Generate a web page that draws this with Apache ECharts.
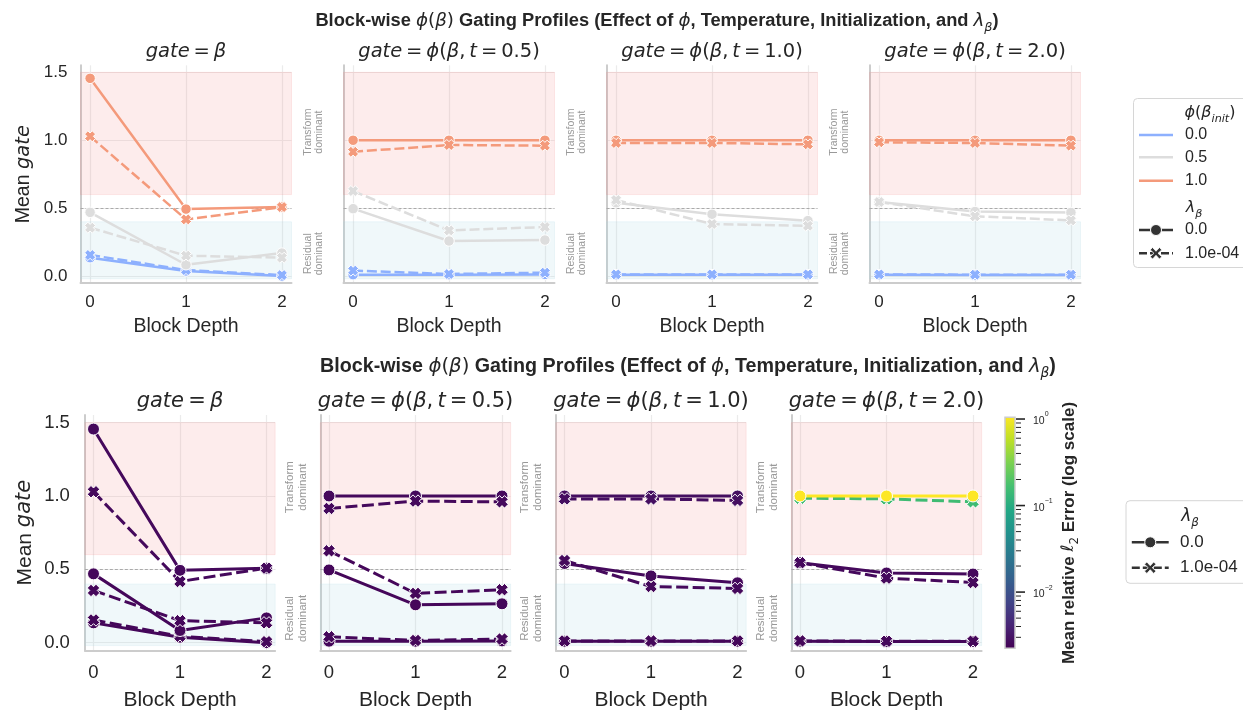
<!DOCTYPE html>
<html><head><meta charset="utf-8">
<script src="https://cdn.jsdelivr.net/npm/echarts@6/dist/echarts.min.js"></script>
<style>html,body{margin:0;padding:0;background:#fff}#c{width:1243px;height:711px}</style>
</head><body><div id="c"></div>
<script>
// ---------------- data ----------------
const depths = [0, 1, 2];
const initLabels = ['0.0', '0.5', '1.0'];          // phi(beta_init) levels
const lambdaLabels = ['0.0', '1.0e-04'];           // lambda_beta levels
const panelTemps = [null, '0.5', '1.0', '2.0'];    // gate = beta, phi(beta,t)
const xTickVals = [0, 1, 2];
const yTickVals = [0, 0.5, 1.0, 1.5];
const xRange = [-0.1, 2.1];
const yRange = [-0.052, 1.552];
const transformBand = [0.6, 1.5];
const residualBand = [-0.02, 0.4];
const threshold = 0.5;

// mean gate per block depth; rows = phi(beta_init) 0.0, 0.5, 1.0
const gBeta_lam0 = [[0.135, 0.037, 0.000], [0.469, 0.083, 0.169], [1.456, 0.493, 0.508]];
const gBeta_lam1 = [[0.155, 0.044, 0.007], [0.356, 0.150, 0.135], [1.029, 0.417, 0.508]];
const gT05_lam0  = [[0.010, 0.010, 0.012], [0.496, 0.258, 0.265], [1.000, 1.000, 1.000]];
const gT05_lam1  = [[0.040, 0.015, 0.025], [0.626, 0.336, 0.361], [0.915, 0.965, 0.960]];
const gT10_lam0  = [[0.010, 0.010, 0.010], [0.540, 0.455, 0.408], [1.000, 1.000, 1.000]];
const gT10_lam1  = [[0.012, 0.012, 0.012], [0.560, 0.383, 0.370], [0.980, 0.980, 0.970]];
const gT20_lam0  = [[0.010, 0.008, 0.008], [0.545, 0.475, 0.468], [1.000, 1.000, 1.000]];
const gT20_lam1  = [[0.012, 0.010, 0.010], [0.545, 0.440, 0.410], [0.985, 0.980, 0.960]];

// mean relative l2 error per line (bottom row colour); per phi(beta_init) 0.0, 0.5, 1.0
const eBeta_lam0 = [0.0025, 0.0025, 0.0026];
const eBeta_lam1 = [0.0025, 0.0025, 0.0026];
const eT05_lam0  = [0.0025, 0.0025, 0.0026];
const eT05_lam1  = [0.0025, 0.0025, 0.0026];
const eT10_lam0  = [0.0025, 0.0026, 0.0028];
const eT10_lam1  = [0.0025, 0.0026, 0.0028];
const eT20_lam0  = [0.0025, 0.0026, 1.05];
const eT20_lam1  = [0.0025, 0.0026, 0.15];

// colorbar (log scale)
const cbMin = 0.00224, cbMax = 1.047;
const cbMajor = [0.01, 0.1, 1];
const cbMajorExp = ['\u22122', '\u22121', '0'];
const cbMinor = [0.003,0.004,0.005,0.006,0.007,0.008,0.009,0.02,0.03,0.04,0.05,0.06,0.07,0.08,0.09,0.2,0.3,0.4,0.5,0.6,0.7,0.8,0.9];

// ---------------- styling ----------------
const SANS = 'Liberation Sans';
const MATH = 'DejaVu Sans';
const TXT = '#262626';
const initColors = ['#8db0fe', '#dddddd', '#f49a7b'];
const VIRIDIS = ['#440154','#482475','#414487','#355f8d','#2a788e','#21918c','#22a884','#44bf70','#7ad151','#bddf26','#fde725'];
const XPATH = 'path://M0,3 L3,0 L5,2 L7,0 L10,3 L8,5 L10,7 L7,10 L5,8 L3,10 L0,7 L2,5 Z';

const panelVals = [[gBeta_lam0, gBeta_lam1], [gT05_lam0, gT05_lam1], [gT10_lam0, gT10_lam1], [gT20_lam0, gT20_lam1]];
const panelErr  = [[eBeta_lam0, eBeta_lam1], [eT05_lam0, eT05_lam1], [eT10_lam0, eT10_lam1], [eT20_lam0, eT20_lam1]];

const ROWS = [
  {lefts: [80.5, 343.5, 606.5, 869.5], width: 211, top: 65.3, height: 217.8,
   tick: 17, name: 19.5, title: 19.5, sup: 18.3, ann: 10.5, sym: 10.5, symX: 11, lw: 2.5, dash: [10, 3.8],
   xMargin: 11, yMargin: 13, titleY: 51.7, supY: 21, supX: 657, nameY: 327, ylabX: 24, annDx: 22},
  {lefts: [84.85, 320.35, 555.85, 791.35], width: 190.3, top: 415, height: 235.3,
   tick: 18.5, name: 21, title: 21, sup: 19.7, ann: 11.5, sym: 12, symX: 12.5, lw: 3, dash: [12, 4.5],
   xMargin: 13, yMargin: 15, titleY: 401.7, supY: 367, supX: 688, nameY: 700, ylabX: 25, annDx: 21}
];

function hexToRgb(h){return [parseInt(h.slice(1,3),16),parseInt(h.slice(3,5),16),parseInt(h.slice(5,7),16)];}
function errT(e){ return Math.max(0, Math.min(1, (Math.log10(e) - Math.log10(cbMin)) / (Math.log10(cbMax) - Math.log10(cbMin)))); }
function viridis(t){
  t = Math.max(0, Math.min(1, t));
  const n = VIRIDIS.length - 1, k = Math.min(n - 1, Math.floor(t * n)), f = t * n - k;
  const a = hexToRgb(VIRIDIS[k]), b = hexToRgb(VIRIDIS[k + 1]);
  return 'rgb(' + a.map((v, j) => Math.round(v + (b[j] - v) * f)).join(',') + ')';
}
const near = (v, arr) => arr.some(t => Math.abs(t - v) < 1e-9);

function rich(size){
  return {
    b: {fontSize: size, fontFamily: SANS, fontWeight: 'bold', fill: TXT, lineHeight: size * 1.4},
    t: {fontSize: size, fontFamily: SANS, fill: TXT, lineHeight: size * 1.4},
    n: {fontSize: size, fontFamily: MATH, fill: TXT, lineHeight: size * 1.4},
    i: {fontSize: size, fontFamily: MATH, fontStyle: 'italic', fill: TXT, lineHeight: size * 1.4},
    sub: {fontSize: size * 0.7, fontFamily: MATH, fontStyle: 'italic', fill: TXT, lineHeight: size * 0.8, verticalAlign: 'bottom'},
    subn: {fontSize: size * 0.7, fontFamily: MATH, fill: TXT, lineHeight: size * 0.8, verticalAlign: 'bottom'},
    sup: {fontSize: size * 0.7, fontFamily: SANS, fill: TXT, lineHeight: size * 0.8, verticalAlign: 'top'}
  };
}
function mkText(x, y, text, o){
  o = o || {};
  const st = {text: text, x: 0, y: 0, fill: o.fill || TXT, fontSize: o.size || 14, fontFamily: o.family || SANS,
    fontWeight: o.weight || 'normal', fontStyle: o.fstyle || 'normal',
    align: o.align || 'center', verticalAlign: 'middle', textAlign: o.align || 'center', textVerticalAlign: 'middle'};
  if (o.lh) st.lineHeight = o.lh;
  if (o.rich) st.rich = o.rich;
  return {type: 'text', x: x, y: y, rotation: o.rot || 0, z: 100, silent: true, style: st};
}

// ---------------- build option ----------------
const grids = [], xAxes = [], yAxes = [], series = [];
ROWS.forEach((R, r) => {
  R.lefts.forEach((left, p) => {
    const g = grids.length;
    grids.push({left: left, top: R.top, width: R.width, height: R.height, containLabel: false});
    const spine = {show: true, onZero: false, lineStyle: {color: '#cccccc', width: 2}};
    const split = {show: true, showMinLine: false, showMaxLine: false, lineStyle: {color: '#ebebeb', width: 1.2}};
    xAxes.push({gridIndex: g, type: 'value', min: xRange[0], max: xRange[1], splitNumber: 2,
      axisLine: spine, axisTick: {show: false}, splitLine: split,
      axisLabel: {show: true, fontSize: R.tick, color: TXT, fontFamily: SANS, margin: R.xMargin,
        formatter: v => near(v, xTickVals) ? String(Math.round(v)) : ''}});
    yAxes.push({gridIndex: g, type: 'value', min: yRange[0], max: yRange[1], splitNumber: 3,
      axisLine: spine, axisTick: {show: false}, splitLine: split,
      axisLabel: {show: p === 0, fontSize: R.tick, color: TXT, fontFamily: SANS, margin: R.yMargin,
        formatter: v => near(v, yTickVals) ? Math.abs(v).toFixed(1) : ''}});
    // regime bands + threshold
    series.push({type: 'line', xAxisIndex: g, yAxisIndex: g, data: [], silent: true, z: 1,
      markArea: {silent: true, z: 1, data: [
        [{yAxis: transformBand[0], itemStyle: {color: 'rgba(240,128,128,0.15)', borderColor: 'rgba(240,128,128,0.15)', borderWidth: 1}}, {yAxis: transformBand[1]}],
        [{yAxis: residualBand[0], itemStyle: {color: 'rgba(173,216,230,0.18)', borderColor: 'rgba(173,216,230,0.18)', borderWidth: 1}}, {yAxis: residualBand[1]}]
      ]},
      markLine: {silent: true, z: 1, symbol: ['none', 'none'], label: {show: false},
        lineStyle: {type: [3, 2], color: '#aaaaaa', width: 1}, data: [{yAxis: threshold}]}
    });
    initLabels.forEach((_, i) => {
      lambdaLabels.forEach((__, l) => {
        const vals = panelVals[p][l][i];
        const t = errT(panelErr[p][l][i]);
        const color = r === 0 ? initColors[i] : viridis(t);
        series.push({type: 'line', xAxisIndex: g, yAxisIndex: g, z: r === 0 ? 3 : 3 + t, silent: true,
          data: depths.map((d, k) => [d, vals[k]]),
          symbol: l === 0 ? 'circle' : XPATH, symbolSize: l === 0 ? R.sym : R.symX, showAllSymbol: true,
          lineStyle: {color: color, width: R.lw, type: l === 0 ? 'solid' : R.dash},
          itemStyle: {color: color, borderColor: '#ffffff', borderWidth: 1},
          emphasis: {disabled: true}
        });
      });
    });
  });
});

// colorbar grid
const cbG = grids.length;
grids.push({left: 1005, top: 417.3, width: 10, height: 231, containLabel: false});
xAxes.push({gridIndex: cbG, type: 'value', min: 0, max: 1, show: false});
yAxes.push({gridIndex: cbG, type: 'log', logBase: 10, min: cbMin, max: cbMax, show: false});
series.push({type: 'custom', xAxisIndex: cbG, yAxisIndex: cbG, silent: true, z: 2,
  data: [[0, cbMin]],
  renderItem: function(params, api){
    const cs = params.coordSys;
    const yt = api.coord([0, cbMax])[1], yb = api.coord([0, cbMin])[1];
    const stops = VIRIDIS.map((c, k) => ({offset: 1 - k / (VIRIDIS.length - 1), color: c})).reverse();
    return {type: 'rect', shape: {x: cs.x, y: yt, width: cs.width, height: yb - yt},
      style: {fill: new echarts.graphic.LinearGradient(0, 0, 0, 1, stops), stroke: '#cccccc', lineWidth: 1.5}};
  }
});
const cbTicks = cbMajor.map((v, k) => [0, v, 1, k]).concat(cbMinor.map(v => [0, v, 0, -1]));
series.push({type: 'custom', xAxisIndex: cbG, yAxisIndex: cbG, silent: true, z: 3,
  data: cbTicks,
  renderItem: function(params, api){
    const cs = params.coordSys;
    const v = api.value(1), major = api.value(2) === 1, k = api.value(3);
    const y = api.coord([0, v])[1];
    const x0 = cs.x + cs.width + 1;
    const children = [{type: 'line', shape: {x1: x0, y1: y, x2: x0 + (major ? 9 : 5), y2: y},
      style: {stroke: '#262626', lineWidth: major ? 1.6 : 1}}];
    if (major) {
      children.push({type: 'text', x: x0 + 17, y: y,
        style: {text: '{b|10}{s|' + cbMajorExp[k] + '}', align: 'left', verticalAlign: 'middle', textAlign: 'left', textVerticalAlign: 'middle',
          rich: {b: {fontSize: 10.5, fontFamily: SANS, fill: TXT, lineHeight: 16, verticalAlign: 'bottom'},
                 s: {fontSize: 7, fontFamily: SANS, fill: TXT, lineHeight: 9, verticalAlign: 'top'}}}});
    }
    return {type: 'group', children: children};
  }
});

const chart = echarts.init(document.getElementById('c'), null, {renderer: 'canvas'});
chart.setOption({
  animation: false,
  backgroundColor: '#ffffff',
  textStyle: {fontFamily: SANS},
  grid: grids, xAxis: xAxes, yAxis: yAxes, series: series
});

// ---------------- text & legends (graphic) ----------------
const els = [];
const TS = '\u2009';
const supTitle = '{b|Block-wise }{i|\u03d5}{n|(}{i|\u03b2}{n|)}{b| Gating Profiles (Effect of }{i|\u03d5}{b|, Temperature, Initialization, and }{i|\u03bb}{sub|\u03b2}{b|)}';
ROWS.forEach((R, r) => {
  els.push(mkText(R.supX, R.supY, supTitle, {rich: rich(R.sup), size: R.sup}));
  R.lefts.forEach((left, p) => {
    const g = r * 4 + p;
    const cx = left + R.width / 2;
    const t = panelTemps[p];
    const title = t === null ? '{i|gate}{n|' + TS + '=' + TS + '}{i|\u03b2}'
      : '{i|gate}{n|' + TS + '=' + TS + '}{i|\u03d5}{n|(}{i|\u03b2}{n|,' + TS + '}{i|t}{n|' + TS + '=' + TS + t + ')}';
    els.push(mkText(cx, R.titleY, title, {rich: rich(R.title), size: R.title}));
    els.push(mkText(cx, R.nameY, 'Block Depth', {size: R.name}));
    if (p < 3) {
      const pt = chart.convertToPixel({gridIndex: g}, [xRange[1], (transformBand[0] + transformBand[1]) / 2 + 0.01]);
      const pr = chart.convertToPixel({gridIndex: g}, [xRange[1], 0.165]);
      els.push(mkText(pt[0] + R.annDx, pt[1], 'Transform\ndominant', {size: R.ann, fill: '#999999', rot: Math.PI / 2, lh: R.ann * 1.1}));
      els.push(mkText(pr[0] + R.annDx, pr[1], 'Residual\ndominant', {size: R.ann, fill: '#999999', rot: Math.PI / 2, lh: R.ann * 1.1}));
    }
  });
  els.push(mkText(R.ylabX, R.top + R.height / 2, '{t|Mean }{i|gate}', {rich: rich(R.name), size: R.name, rot: Math.PI / 2}));
});

// colorbar label
els.push(mkText(1069, 533, '{b|Mean relative }{n|\u2113}{subn|2}{b| Error (log scale)}', {rich: rich(17), size: 17, rot: Math.PI / 2}));

// legend helper
function legendStyleEntry(x1, x2, y, xt, l, size){
  const out = [];
  const col = '#333333';
  out.push({type: 'line', z: 100, silent: true, shape: {x1: x1, y1: y, x2: x2, y2: y},
    style: {stroke: col, lineWidth: 2.5, lineDash: l === 0 ? null : [8, 3]}});
  const mx = (x1 + x2) / 2;
  if (l === 0) {
    out.push({type: 'circle', z: 101, silent: true, shape: {cx: mx, cy: y, r: 5.5}, style: {fill: col, stroke: '#fff', lineWidth: 1}});
  } else {
    const s = 5.8, w = 2.4;
    const pts = [[-s+w,-s],[0,-w*0.85],[s-w,-s],[s,-s+w],[w*0.85,0],[s,s-w],[s-w,s],[0,w*0.85],[-s+w,s],[-s,s-w],[-w*0.85,0],[-s,-s+w]];
    out.push({type: 'polygon', z: 101, silent: true, shape: {points: pts.map(q => [mx + q[0], y + q[1]])}, style: {fill: col, stroke: '#fff', lineWidth: 0.8}});
  }
  out.push(mkText(xt, y, lambdaLabels[l], {size: size, align: 'left'}));
  return out;
}

// top legend
els.push({type: 'rect', z: 99, silent: true, shape: {x: 1133.5, y: 98.5, width: 130, height: 169, r: 4}, style: {fill: '#ffffff', stroke: '#d6d6d6', lineWidth: 1}});
els.push(mkText(1210, 113.3, '{i|\u03d5}{n|(}{i|\u03b2}{sub|init}{n|)}', {rich: rich(16), size: 16}));
const topEntryY = [135, 157.3, 180.7];
initLabels.forEach((lab, i) => {
  els.push({type: 'line', z: 100, silent: true, shape: {x1: 1139, y1: topEntryY[i], x2: 1173, y2: topEntryY[i]}, style: {stroke: initColors[i], lineWidth: 2.5}});
  els.push(mkText(1185, topEntryY[i], lab, {size: 16, align: 'left'}));
});
els.push(mkText(1194, 208.3, '{i|\u03bb}{sub|\u03b2}', {rich: rich(16), size: 16}));
legendStyleEntry(1139, 1173, 230, 1185, 0, 16).forEach(e => els.push(e));
legendStyleEntry(1139, 1173, 253.3, 1185, 1, 16).forEach(e => els.push(e));

// bottom legend
els.push({type: 'rect', z: 99, silent: true, shape: {x: 1126, y: 500.7, width: 130, height: 82.6, r: 4}, style: {fill: '#ffffff', stroke: '#d6d6d6', lineWidth: 1}});
els.push(mkText(1190, 516.7, '{i|\u03bb}{sub|\u03b2}', {rich: rich(17), size: 17}));
legendStyleEntry(1131.8, 1168.7, 542.3, 1180, 0, 17).forEach(e => els.push(e));
legendStyleEntry(1131.8, 1168.7, 567.7, 1180, 1, 17).forEach(e => els.push(e));

chart.setOption({graphic: {elements: els}});
</script>
</body></html>
